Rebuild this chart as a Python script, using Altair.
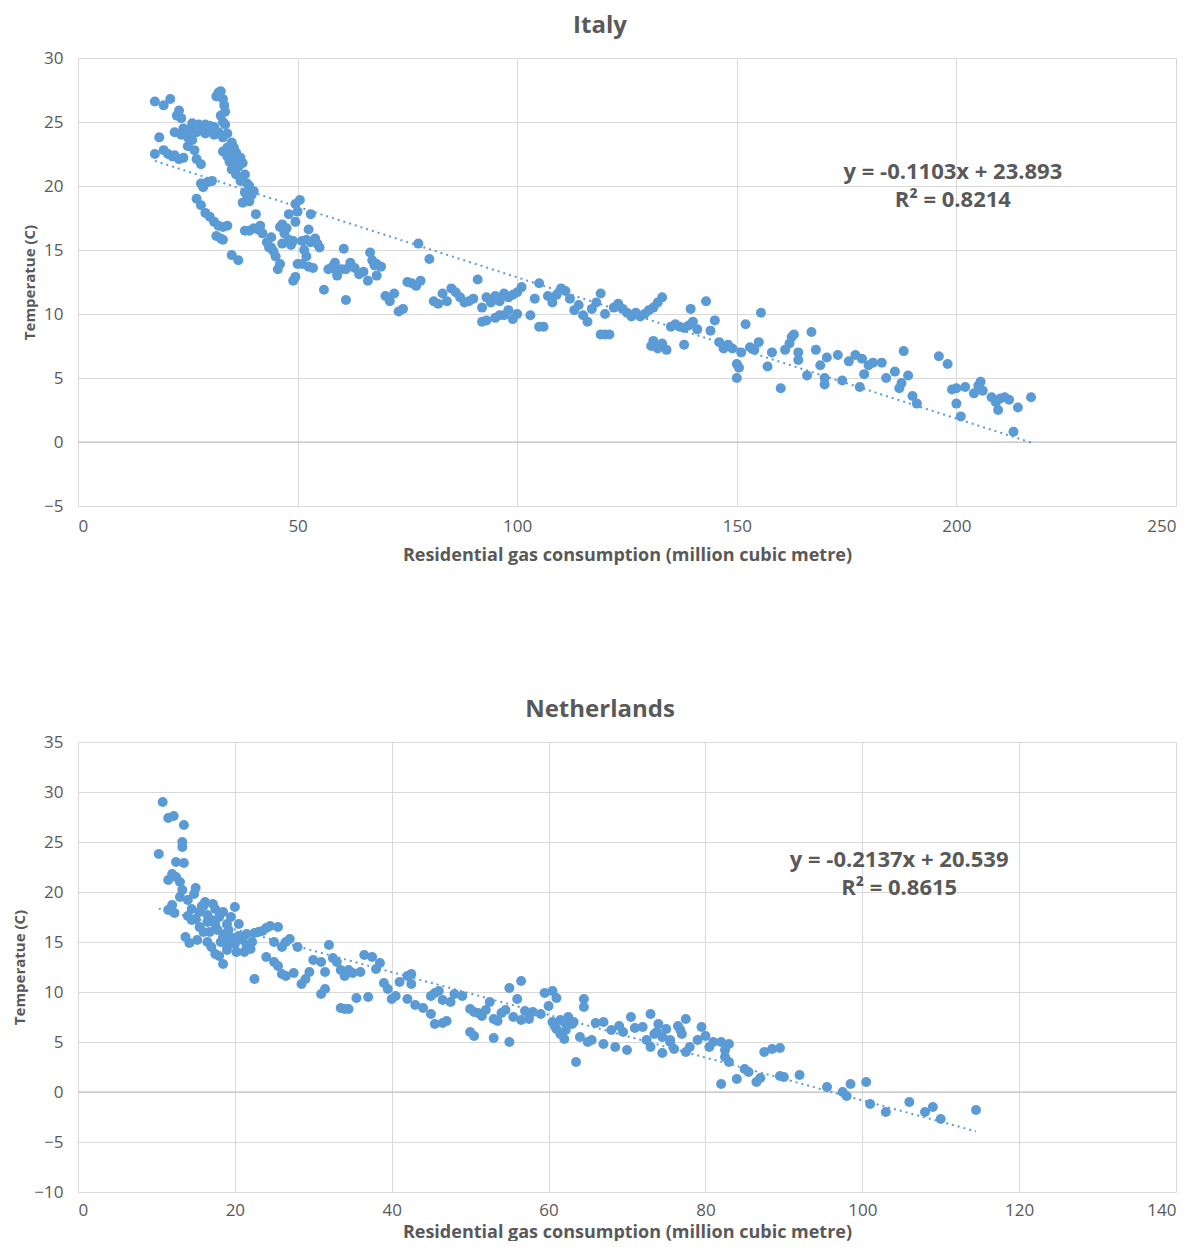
import altair as alt
import pandas as pd

# ---------------- Italy ----------------
italy_x = [17.5, 19.5, 21, 17.5, 18.5, 19.5, 20.5, 21.5, 22, 23, 24, 22, 22.5, 23, 23.5, 24, 24.5, 25, 25.5, 26,
           26.5, 27, 27.5, 28, 28.5, 29, 29.5, 30, 30.5, 31, 31.5, 32, 32.5, 33, 33.3, 33.5, 32.5, 33, 33.5, 32,
           33, 34, 33, 34, 35, 35.5, 34.5, 35, 36, 37, 37.5, 36, 37, 38, 38.5, 38, 38.5, 39, 39.5, 37.5,
           25, 26.5, 27, 28, 28, 28.5, 29.5, 30.5, 27, 28, 29, 30, 31, 32, 33, 34, 31.5, 32.5, 33, 35, 36.5,
           38, 39, 40, 40.5, 41, 41.5, 42, 43, 44, 44.5, 45, 45.5, 46, 46.5, 47, 47.5, 48, 49, 49.5, 48, 49.5,
           50.5, 50, 51, 52, 52.5, 53, 53, 54, 55, 50, 51, 52, 52.5, 53.5, 49, 49.5, 56, 57, 58, 58.5, 59, 60,
           61, 62, 63, 64, 65, 66, 61, 58.5, 60.5, 66.5, 67, 67.5, 68, 68, 69, 70, 71, 72, 73, 74, 75, 76, 77,
           78, 77.5, 80, 81, 82, 83, 84, 85, 86, 87, 88, 89, 90, 91, 92, 93, 94, 95, 96, 97, 98, 99, 100, 101,
           92, 93, 95, 96, 97, 98, 99, 100, 103, 105, 106, 104, 105, 107, 108, 109, 110, 111, 112, 113, 114,
           115, 116, 117, 118, 119, 120, 119, 120, 121, 122, 123, 124, 125, 126, 127, 128, 129, 130, 131, 132,
           133, 130.5, 131, 132, 133, 134, 135, 136, 137, 138, 139, 139.5, 140, 141, 138, 143, 144, 145, 146,
           147, 148, 149, 150, 150, 150.5, 151, 152, 153, 154, 155, 155.5, 157, 158, 160, 161, 162, 162.5, 163,
           164, 164, 166, 167, 168, 169, 170, 170, 170.5, 173, 174, 175.5, 177, 178, 178.5, 179, 180, 181, 183,
           184, 186, 187, 187.5, 188, 189, 190, 191, 196, 198, 199, 200, 200, 201, 202, 204, 205, 205.5, 206,
           208, 209, 209.5, 210, 211, 212, 213, 214, 217,
           23.5, 25, 26, 29, 31, 34.5, 35.5, 36.5, 34, 36, 39, 40, 43.5, 46, 48.5, 51.5, 54.5, 46.5, 44]
italy_y = [26.6, 26.3, 26.8, 22.5, 23.8, 22.8, 22.5, 22.3, 22.4, 22.1, 22.2, 24.2, 25.5, 25.9, 25.3, 24.5, 24.0, 23.8, 24.4, 24.9,
           24.6, 24.2, 24.8, 24.5, 24.4, 24.8, 24.3, 24.7, 24.5, 24.6, 27.0, 27.3, 27.4, 26.8, 26.3, 25.8, 25.5, 25.0, 24.8, 24.2,
           23.8, 24.1, 22.7, 22.3, 23.4, 23.0, 21.9, 21.3, 22.0, 22.2, 21.8, 20.9, 20.4, 20.9, 20.2, 19.5, 19.0, 18.8, 19.3, 18.7,
           23.1, 22.8, 22.1, 21.7, 20.2, 19.9, 20.3, 20.4, 19.0, 18.5, 17.9, 17.6, 17.2, 16.9, 16.8, 16.9, 16.1, 15.9, 15.8, 14.6, 14.2,
           16.5, 16.5, 16.7, 17.8, 16.6, 16.9, 16.3, 15.6, 15.2, 14.9, 14.5, 13.5, 13.9, 15.5, 16.3, 16.7, 15.8, 15.7, 17.2, 17.8, 18.6,
           18.9, 18.0, 15.7, 15.8, 16.6, 17.8, 15.6, 15.9, 15.2, 13.9, 13.9, 14.5, 13.7, 13.6, 12.6, 12.9, 11.9, 13.5, 13.7, 13.5, 13.0, 13.5,
           13.5, 14.0, 13.6, 13.1, 13.3, 12.6, 11.1, 14.0, 15.1, 14.8, 14.2, 13.8, 13.0, 13.9, 13.7, 11.4, 11.0, 11.6, 10.2, 10.4, 12.5, 12.4, 12.2,
           12.6, 15.5, 14.3, 11.0, 10.8, 11.6, 11.0, 12.0, 11.7, 11.3, 10.9, 11.0, 11.2, 12.7, 10.5, 11.3, 10.9, 11.4, 11.0, 11.6, 11.3, 11.5, 11.7, 12.1,
           9.4, 9.5, 9.7, 9.9, 9.9, 10.3, 9.6, 10.0, 9.9, 9.0, 9.0, 11.2, 12.4, 11.4, 10.9, 11.5, 12.0, 11.8, 11.2, 10.3, 10.7,
           9.9, 9.4, 10.4, 10.9, 11.6, 10.0, 8.4, 8.4, 8.4, 10.5, 10.8, 10.4, 10.1, 9.8, 10.1, 9.8, 10.0, 10.3, 10.5, 10.9,
           11.3, 7.5, 7.9, 7.3, 7.7, 7.2, 9.0, 9.2, 9.0, 8.9, 9.1, 10.4, 9.4, 8.8, 7.6, 11.0, 8.7, 9.5, 7.8,
           7.3, 7.6, 7.3, 5.0, 6.1, 5.8, 7.0, 9.2, 7.4, 7.2, 7.8, 10.1, 5.9, 7.0, 4.2, 7.2, 7.7, 8.2, 8.4,
           6.4, 7.0, 5.2, 8.6, 7.2, 6.0, 4.5, 5.0, 6.6, 6.8, 4.8, 6.3, 6.8, 4.3, 6.5, 5.3, 6.0, 6.2, 6.2,
           5.0, 5.5, 4.2, 4.6, 7.1, 5.2, 3.6, 3.0, 6.7, 6.1, 4.1, 3.0, 4.2, 2.0, 4.3, 3.8, 4.4, 4.7, 4.0,
           3.5, 3.1, 2.5, 3.4, 3.5, 3.3, 0.8, 2.7, 3.5,
           24.0, 24.3, 23.6, 24.1, 24.0, 22.6, 22.4, 21.5, 23.0, 22.6, 20.0, 19.6, 15.2, 16.8, 15.4, 15.0, 15.5, 17.0, 16.0]
italy_slope, italy_intercept = -0.1103, 23.893
italy_eq = ["y = -0.1103x + 23.893", "R² = 0.8214"]

# ---------------- Netherlands ----------------
nl_x = [10.3, 10.8, 11.5, 12.2, 13.5, 13.3, 13.3, 12.5, 13.5, 11.5, 12, 12.5, 13, 13.3, 12, 11.5, 12.3, 13, 14, 14.5,
        15, 14, 15, 16, 16.5, 17, 17.5, 18, 18.5, 19, 19.5, 20, 13.7, 14.2, 15.2, 16, 16.5, 17, 17.5, 18, 18.5,
        19, 19.5, 20, 20.5, 21, 21.5, 22, 22.5, 23, 23.5, 24, 24.5, 25.5, 25, 26, 26.5, 27, 28, 18.5, 22.5, 24,
        25, 25.5, 26, 26.5, 27.5, 28.5, 29, 29.5, 30, 31, 31.5, 32, 32.5, 33, 33.5, 34, 34.5, 35, 36, 31, 31.5,
        33.5, 34, 34.5, 35.5, 37, 36.5, 37.5, 38, 38.5, 39, 39.5, 40, 40.5, 41, 42, 42.5, 42.5, 42, 43, 44, 45,
        45.5, 46, 46.5, 45, 45.5, 46.5, 47, 47.5, 48, 49, 50, 50.5, 51, 51.5, 50, 50.5, 52, 52.5, 53, 53.5, 53,
        54, 54.5, 55, 55.5, 56, 55, 56.5, 57, 57.5, 56.5, 58, 59, 59.5, 60, 60.5, 60.5, 61, 61, 61.5, 62, 62,
        62.5, 63, 63.5, 64, 64.5, 64.5, 65, 65.5, 66, 67, 67, 68, 68.5, 69, 69.5, 70, 70.5, 71, 72, 72.5, 73,
        73.5, 73, 74, 74.5, 74.5, 75, 75.5, 76, 76.5, 77, 77.5, 77.5, 78, 79, 79.5, 80, 80.5, 81, 82, 82.5, 83,
        82.5, 83, 82, 84, 85, 85.5, 86.5, 87, 87.5, 88.5, 89.5, 89.5, 90, 92, 95.5, 97.5, 98, 98.5, 100.5, 101,
        103, 106, 108, 109, 110, 114.5,
        15.5, 16.8, 17.8, 18.8, 19.8, 21.2, 22.2, 16.2, 17.2, 19.2, 20.5, 14.8, 15.8,
        14.5, 15.5, 16.5, 17.5, 18.2, 19.0, 20.2, 21.5, 60.8, 61.5, 62.2, 63.2, 73.8, 75.5, 76.8]
nl_y = [23.8, 29.0, 27.4, 27.6, 26.7, 25.0, 24.5, 23.0, 22.9, 21.2, 21.8, 21.5, 21.0, 20.2, 18.7, 18.2, 17.9, 19.5, 19.2, 18.3,
        20.4, 17.6, 17.3, 18.6, 17.7, 17.2, 18.3, 17.5, 18.0, 16.8, 17.5, 18.5, 15.5, 14.9, 15.2, 16.0, 15.0, 14.5, 13.8, 13.6, 15.5,
        14.2, 15.0, 14.8, 15.6, 15.2, 14.6, 14.3, 15.9, 16.0, 16.1, 16.4, 16.6, 16.5, 15.0, 14.5, 15.0, 15.3, 14.5, 12.8, 11.3, 13.5,
        13.0, 12.6, 11.8, 11.6, 11.9, 10.8, 11.3, 12.0, 13.2, 13.0, 12.0, 14.7, 13.4, 13.0, 12.2, 11.6, 12.2, 11.9, 12.0, 9.8, 10.3,
        8.4, 8.3, 8.3, 9.4, 9.5, 13.7, 13.5, 12.3, 12.9, 10.9, 10.3, 9.3, 9.6, 11.0, 11.6, 11.8, 10.8, 9.3, 8.7, 8.4, 9.6,
        9.9, 10.1, 9.2, 7.8, 6.8, 6.9, 7.1, 9.0, 9.8, 9.6, 8.3, 8.0, 7.9, 7.6, 6.0, 5.6, 8.2, 9.0, 7.3, 7.1, 5.4,
        7.9, 8.2, 10.4, 7.5, 9.3, 5.0, 7.2, 8.1, 7.3, 11.1, 8.0, 7.8, 9.9, 8.6, 10.1, 7.0, 9.4, 6.3, 5.8, 7.0, 5.3,
        7.5, 6.8, 3.0, 5.5, 9.3, 8.5, 5.0, 5.2, 6.9, 7.0, 4.8, 6.2, 4.5, 6.6, 6.0, 4.2, 7.5, 6.4, 6.5, 5.2, 7.8,
        5.8, 4.5, 6.8, 5.5, 3.9, 6.3, 5.2, 4.3, 6.6, 5.8, 7.3, 4.0, 4.5, 5.2, 6.5, 5.6, 4.5, 5.0, 5.0, 4.2, 4.8,
        3.5, 3.0, 0.8, 1.3, 2.3, 2.0, 1.0, 1.4, 4.0, 4.3, 4.4, 1.6, 1.5, 1.7, 0.5, 0.0, -0.4, 0.8, 1.0, -1.2,
        -2.0, -1.0, -2.0, -1.5, -2.7, -1.8,
        16.5, 16.0, 16.2, 15.8, 15.4, 14.0, 15.0, 19.0, 18.8, 16.2, 16.8, 19.8, 18.6,
        17.2, 18.0, 17.0, 16.8, 15.0, 14.6, 14.0, 15.8, 6.6, 7.2, 6.2, 7.0, 6.0, 5.0, 6.2]
nl_slope, nl_intercept = -0.2137, 20.539
nl_eq = ["y = -0.2137x + 20.539", "R² = 0.8615"]

BLUE = "#5B9BD5"
GREY = "#595959"
FONT = "Open Sans"
X_TITLE = "Residential gas consumption (million cubic metre)"
Y_TITLE = "Temperatue (C)"


def panel(title, xs, ys, slope, intercept, eq, xdom, xstep, ydom, ystep, eq_x, eq_y, eq_gap, w, h,
          x_label_pad, x_title_pad):
    pts = pd.DataFrame({"x": xs, "y": ys})
    x0, x1 = min(xs), max(xs)
    trend = pd.DataFrame({"x": [x0, x1], "y": [slope * x0 + intercept, slope * x1 + intercept]})
    labels = pd.DataFrame({"x": [eq_x, eq_x], "y": [eq_y, eq_y - eq_gap], "t": eq})

    xscale = alt.Scale(domain=xdom, nice=False, zero=False)
    yscale = alt.Scale(domain=ydom, nice=False, zero=False)
    xaxis = alt.Axis(values=list(range(xdom[0], xdom[1] + 1, xstep)), title=X_TITLE,
                     grid=True, domain=False, ticks=False, labelPadding=x_label_pad,
                     titlePadding=x_title_pad, titleFontSize=18)
    yaxis = alt.Axis(values=list(range(ydom[0], ydom[1] + 1, ystep)), title=Y_TITLE,
                     grid=True, domain=False, ticks=False, labelPadding=15,
                     titlePadding=6, titleFontSize=15)

    base_x = alt.X("x:Q", scale=xscale, axis=xaxis)
    base_y = alt.Y("y:Q", scale=yscale, axis=yaxis)

    zero_line = alt.Chart(pd.DataFrame({"y": [0]})).mark_rule(color="#BFBFBF", strokeWidth=1).encode(
        y=alt.Y("y:Q", scale=yscale, axis=yaxis))
    dots = alt.Chart(pts).mark_circle(size=100, color=BLUE, opacity=1).encode(x=base_x, y=base_y)
    line = alt.Chart(trend).mark_line(color=BLUE, strokeDash=[2, 4], strokeWidth=2).encode(
        x=base_x, y=base_y)
    text = alt.Chart(labels).mark_text(font=FONT, fontSize=22, fontWeight="bold", color=GREY).encode(
        x=base_x, y=base_y, text="t:N")

    return alt.layer(zero_line, dots, line, text).properties(
        width=w, height=h,
        title=alt.TitleParams(title, fontSize=24, font=FONT, fontWeight="bold", color=GREY,
                              anchor="middle", offset=11, dx=-27))


italy = panel("Italy", italy_x, italy_y, italy_slope, italy_intercept, italy_eq,
              [0, 250], 50, [-5, 30], 5, 199.2, 21.1, 2.2, 1098, 448, 12, 12)
nl = panel("Netherlands", nl_x, nl_y, nl_slope, nl_intercept, nl_eq,
           [0, 140], 20, [-10, 35], 5, 104.7, 23.2, 2.8, 1098, 450, 10, 5)

chart = alt.vconcat(italy, nl, spacing=134).configure_view(stroke=None).configure_axis(
    gridColor="#D9D9D9", labelFont=FONT, labelFontSize=17, labelColor=GREY,
    titleFont=FONT, titleFontWeight="bold", titleColor=GREY
).properties(padding={"left": 4, "top": 6, "right": 5, "bottom": 0}, background="white")

chart.save("out.html", embed_options={"renderer": "svg", "actions": False})
